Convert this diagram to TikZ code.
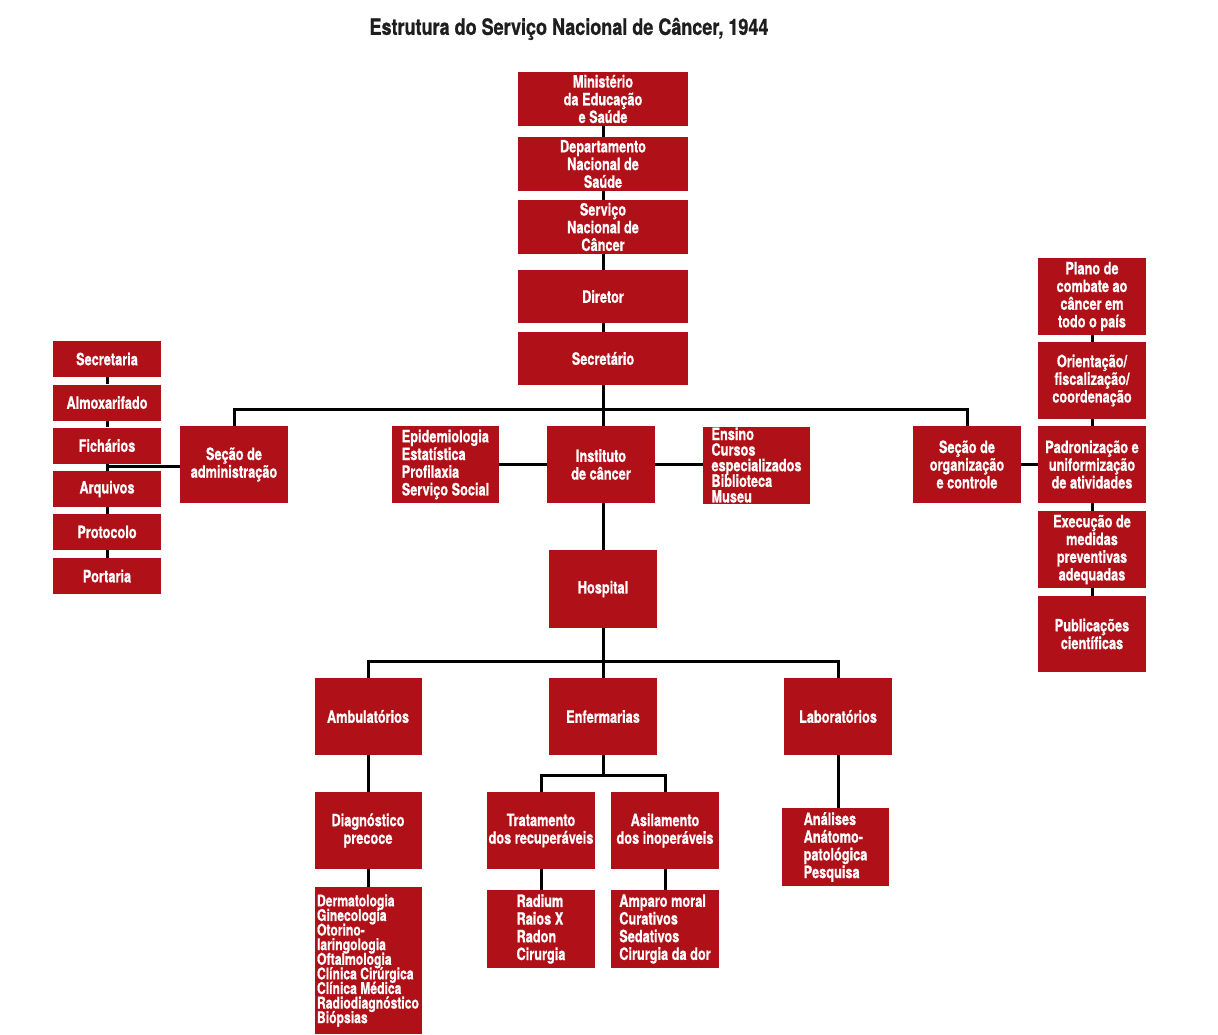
\documentclass[tikz,border=0pt]{standalone}
\usepackage{fontspec}
\setmainfont{TeX Gyre Heros}[FakeStretch=0.75,BoldFeatures={FakeBold=0.7}]
\newfontfamily\titlefont{TeX Gyre Heros}[FakeStretch=0.80,BoldFeatures={FakeBold=0.7}]
\usetikzlibrary{backgrounds,calc}
\definecolor{boxred}{RGB}{176,16,24}
\definecolor{titlegray}{RGB}{30,30,30}
\newcommand\myboxfont{\bfseries\fontsize{17}{17.7}\selectfont\lineskiplimit=-20pt\relax}
\newcommand\myensfont{\bfseries\fontsize{17}{15.6}\selectfont\lineskiplimit=-20pt\relax}
\newcommand\mydermfont{\bfseries\fontsize{16.2}{14.6}\selectfont\lineskiplimit=-20pt\relax}
\begin{document}
\begin{tikzpicture}[x=1pt,y=-1pt,
  box/.style={fill=boxred,text=white,inner sep=0pt,minimum width=108pt,minimum height=77pt,
    align=center,font=\myboxfont},
  listbox/.style={box,align=left},
  colbox/.style={box,minimum height=36pt},
  conn/.style={draw=black,line width=3pt}]
\useasboundingbox (0,0) rectangle (1218,1034);
\node[font=\titlefont\bfseries\fontsize{22.5}{25}\selectfont,text=titlegray] (title) at (569,29) {Estrutura do Serviço Nacional de Câncer, 1944};
% top chain
\node[box,minimum width=170pt,minimum height=54pt] (min) at (603,99) {Ministério\\da Educação\\e Saúde};
\node[box,minimum width=170pt,minimum height=54pt] (dep) at (603,164) {Departamento\\Nacional de\\Saúde};
\node[box,minimum width=170pt,minimum height=54pt] (snc) at (603,227) {Serviço\\Nacional de\\Câncer};
\node[box,minimum width=170pt,minimum height=53pt] (dir) at (603,296.5) {Diretor};
\node[box,minimum width=170pt,minimum height=53pt] (sec) at (603,358.5) {Secretário};
% second row
\node[box] (adm) at (234,464.5) {Seção de\\administração};
\node[listbox,minimum width=107pt] (epi) at (445.5,464.5) {Epidemiologia\\Estatística\\Profilaxia\\Serviço Social};
\node[box] (inst) at (601,464.5) {Instituto\\de câncer};
\node[listbox,minimum width=107pt,font=\myensfont] (ens) at (756.5,465) {Ensino\\Cursos\\especializados\\Biblioteca\\Museu};
\node[box] (org) at (967,464.5) {Seção de\\organização\\e controle};
% left column
\node[colbox] (secr) at (107,359) {Secretaria};
\node[colbox] (almo) at (107,402.5) {Almoxarifado};
\node[colbox] (fich) at (107,445.5) {Fichários};
\node[colbox] (arq) at (107,489) {Arquivos};
\node[colbox] (prot) at (107,532) {Protocolo};
\node[colbox] (port) at (107,576) {Portaria};
\coordinate (admj) at (107,466);
% right column
\node[box] (plano) at (1092,296.5) {Plano de\\combate ao\\câncer em\\todo o país};
\node[box] (orie) at (1092,380.5) {Orientação/\\fiscalização/\\coordenação};
\node[box] (padr) at (1092,464.5) {Padronização e\\uniformização\\de atividades};
\node[box] (exec) at (1092,549.5) {Execução de\\medidas\\preventivas\\adequadas};
\node[box,minimum height=76pt] (publ) at (1092,634) {Publicações\\científicas};
% hospital
\node[box,minimum width=108pt,minimum height=78pt] (hosp) at (603,589) {Hospital};
\node[box,minimum width=107pt] (amb) at (368,716.5) {Ambulatórios};
\node[box] (enf) at (603,716.5) {Enfermarias};
\node[box] (lab) at (838,716.5) {Laboratórios};
% bottom
\node[box,minimum width=107pt] (diag) at (368,830.5) {Diagnóstico\\precoce};
\node[listbox,minimum width=107pt,minimum height=147pt,font=\mydermfont] (derm) at (368,960.5) {Dermatologia\\Ginecologia\\Otorino-\\laringologia\\Oftalmologia\\Clínica Cirúrgica\\Clínica Médica\\Radiodiagnóstico\\Biópsias};
\node[box] (trat) at (541,830.5) {Tratamento\\dos recuperáveis};
\node[box] (asil) at (665,830.5) {Asilamento\\dos inoperáveis};
\node[listbox,minimum height=78pt] (rad) at (541,929) {Radium\\Raios X\\Radon\\Cirurgia};
\node[listbox,minimum height=78pt] (amp) at (665,929) {Amparo moral\\Curativos\\Sedativos\\Cirurgia da dor};
\node[listbox,minimum width=107pt,minimum height=78pt] (anal) at (835.5,847) {Análises\\Anátomo-\\patológica\\Pesquisa};
% connectors
\coordinate (busL) at (234,409);
\coordinate (hbus) at (603,661);
\coordinate (ebus) at (603,775);
\begin{scope}[on background layer]
\fill[white] (0,0) rectangle (1218,1034);
\draw[conn] (min) -- (dep);
\draw[conn] (dep) -- (snc);
\draw[conn] (snc) -- (dir);
\draw[conn] (dir) -- (sec);
\draw[conn] (sec.south) -- (sec.south |- inst.north);
\draw[conn] (adm.north) |- (busL) -| (org.north);
\draw[conn] (epi) -- (inst);
\draw[conn] (inst.east) -- (inst.east -| ens.west);
\draw[conn] (secr) -- (almo);
\draw[conn] (almo) -- (fich);
\draw[conn] (fich) -- (arq);
\draw[conn] (arq) -- (prot);
\draw[conn] (prot) -- (port);
\draw[conn] (adm.west |- admj) -- (admj);
\draw[conn] (plano) -- (orie);
\draw[conn] (orie) -- (padr);
\draw[conn] (padr) -- (exec);
\draw[conn] (exec) -- (publ);
\draw[conn] (org) -- (padr);
\draw[conn] (inst.south -| hosp.north) -- (hosp.north);
\draw[conn] (hosp) -- (enf);
\draw[conn] (amb.north) |- (hbus) -| (lab.north);
\draw[conn] (amb) -- (diag);
\draw[conn] (diag) -- (derm);
\draw[conn] (enf.south) -- (ebus);
\draw[conn] (trat.north) |- (ebus) -| (asil.north);
\draw[conn] (trat) -- (rad);
\draw[conn] (asil) -- (amp);
\draw[conn] (lab.south) -- (lab.south |- anal.north);
\end{scope}
\end{tikzpicture}
\end{document}
